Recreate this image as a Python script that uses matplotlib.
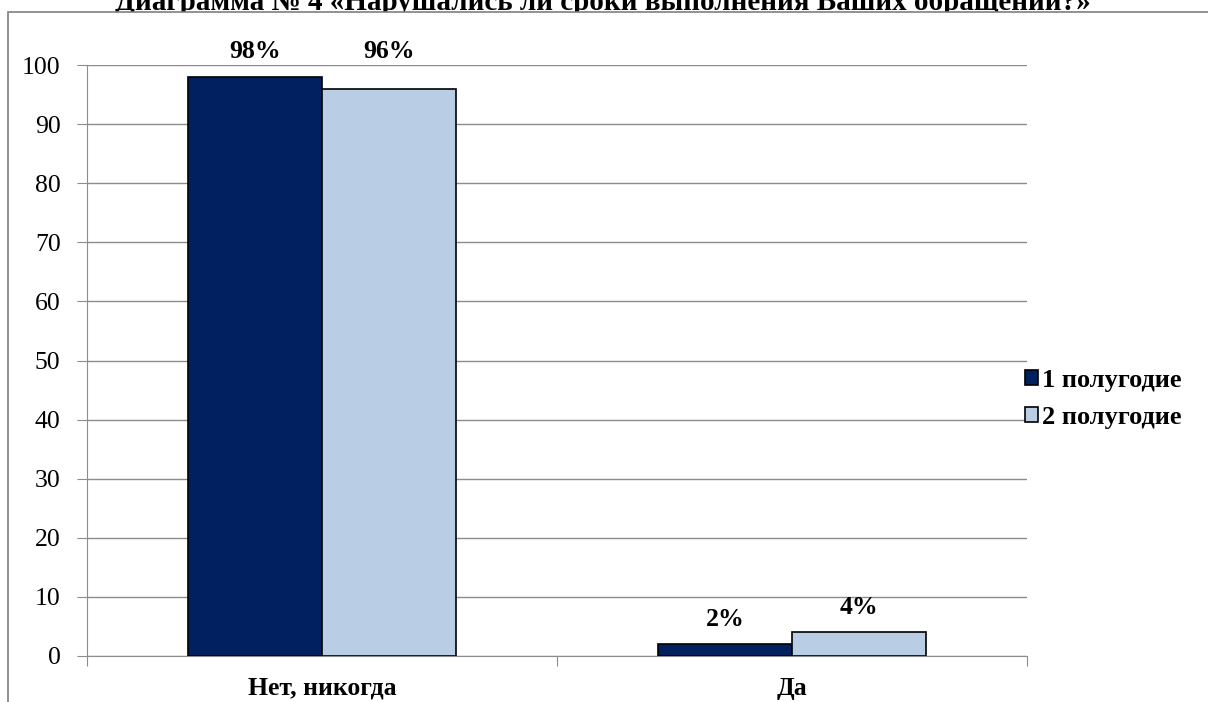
import matplotlib
matplotlib.use("Agg")
import matplotlib.pyplot as plt
from matplotlib.patches import Patch, Rectangle
import numpy as np

plt.rcParams['font.family'] = ['Liberation Serif', 'DejaVu Serif']

categories = ["Нет, никогда", "Да"]
series_names = ["1 полугодие", "2 полугодие"]
half1 = [98, 2]
half2 = [96, 4]
yticks = [0, 10, 20, 30, 40, 50, 60, 70, 80, 90, 100]
title = "Диаграмма № 4 «Нарушались ли сроки выполнения Ваших обращений?»"

colors = ["#002060", "#B9CDE5"]
grid_color = "#8C8C8C"

fig = plt.figure(figsize=(12.08, 7.02), dpi=100)
ax = fig.add_axes([87 / 1208, 1 - 656 / 702, (1027 - 87) / 1208, (656 - 65) / 702])
ax.set_facecolor("none")

x = np.arange(len(categories))
w = 0.285
series = [half1, half2]
for i, (vals, col, name) in enumerate(zip(series, colors, series_names)):
    pos = x + (i - 0.5) * w
    ax.bar(pos, vals, width=w, color=col, edgecolor="black", linewidth=1.2,
           label=name, zorder=3)
    for p, v in zip(pos, vals):
        # labels of tall bars sit just above the plot top
        ly = max(v + 4.2, 102.3) if v > 50 else v + 4.2
        ax.text(p, ly, f"{v}%", ha="center", va="center", fontsize=18.5,
                fontweight="bold", clip_on=False)

ax.set_xlim(-0.5, 1.5)
ax.set_ylim(0, 100)
ax.set_yticks(yticks)
ax.yaxis.grid(True, color=grid_color, linewidth=1, zorder=0)
ax.set_axisbelow(True)
for s in ["top", "right"]:
    ax.spines[s].set_visible(False)
ax.spines["left"].set_color(grid_color)
ax.spines["bottom"].set_color(grid_color)
ax.tick_params(axis="y", length=7, color=grid_color, labelsize=18.5, pad=12)
ax.set_xticks([-0.5, 0.5, 1.5])
ax.set_xticklabels([])
ax.tick_params(axis="x", length=7, color=grid_color)
ax.set_xticks(x, minor=True)
ax.set_xticklabels(categories, minor=True, fontsize=18.5, fontweight="bold")
ax.tick_params(axis="x", which="minor", length=0, pad=15)

handles = [Patch(facecolor=c, edgecolor="black", linewidth=1.2) for c in colors]
leg = fig.legend(handles, series_names, loc="center left",
                 bbox_to_anchor=(1020 / 1208, 1 - 399 / 702), frameon=False,
                 prop={"size": 19, "weight": "bold"}, handlelength=0.5,
                 handleheight=0.5, handletextpad=0.12, labelspacing=0.55,
                 borderaxespad=0, borderpad=0.2)

# title sits behind the white chart area, which trims its lower edge
fig.text(603 / 1208, 1 - 9.5 / 702, title, ha="center", va="baseline",
         fontsize=21, fontweight="bold", zorder=-2)
fig.add_artist(Rectangle((8 / 1208, -0.1), 1.2, 1.1 - 12 / 702,
                         transform=fig.transFigure, facecolor="white",
                         edgecolor="#7F7F7F", linewidth=1.2, zorder=-1))

fig.savefig("out.png", dpi=100)
